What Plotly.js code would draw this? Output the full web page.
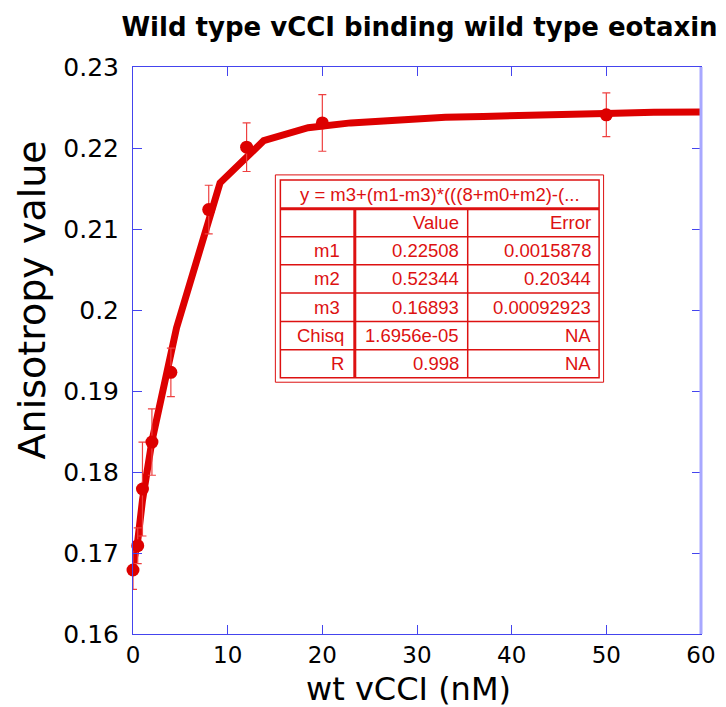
<!DOCTYPE html>
<html><head><meta charset="utf-8">
<script src="https://cdn.plot.ly/plotly-3.0.1.min.js"></script>
<style>html,body{margin:0;padding:0;background:#fff}</style>
</head><body>
<div id="chart" style="width:726px;height:707px"></div>
<script>
// Measured data points
const concNM = [0, 0.5, 1, 2, 4, 8, 12, 20, 50];
const anisotropy = [0.1679, 0.1709, 0.1779, 0.1837, 0.1923, 0.2124, 0.2201, 0.2231, 0.2241];
const anisotropyErr = [0.0024, 0.0022, 0.0058, 0.0041, 0.0030, 0.0030, 0.0030, 0.0035, 0.0027];
// Fitted curve as drawn
const fitX = [0, 0.5, 1, 2, 4.6, 9.2, 13.8, 18.5, 23, 28, 33, 37, 42, 46, 51, 55, 60];
const fitY = [0.1685, 0.1715, 0.1765, 0.1838, 0.1978, 0.2157, 0.2209, 0.2225, 0.2231, 0.2235, 0.2238, 0.2239, 0.2241, 0.2242, 0.2243, 0.2244, 0.22445];
// Fit results table
const tableHeader = "y = m3+(m1-m3)*(((8+m0+m2)-(...";
const colHeads = ["", "Value", "Error"];
const rowNames = ["m1", "m2", "m3", "Chisq", "R"];
const rowValues = ["0.22508", "0.52344", "0.16893", "1.6956e-05", "0.998"];
const rowErrors = ["0.0015878", "0.20344", "0.00092923", "NA", "NA"];
const xTicks = [0, 10, 20, 30, 40, 50, 60];
const yTicks = [0.16, 0.17, 0.18, 0.19, 0.2, 0.21, 0.22, 0.23];
const titleText = 'Wild type vCCI binding wild type eotaxin';
const xTitle = 'wt vCCI (nM)';
const yTitle = 'Anisotropy value';

const W = 726, H = 707;
const L = 132.5, R = 701, T = 67, B = 634.5;
const px = x => (x - L) / (R - L);
const py = y => (B - y) / (B - T);
const RED = '#dd0000';
const TRED = '#dd1111';
const FONT = 'Liberation Sans, Arial, sans-serif';
const WIDE = 'DejaVu Sans, sans-serif';

const shapes = [];
const ann = [];
function rect(x0, y0, x1, y1, w, fill) {
  shapes.push({type:'rect', xref:'paper', yref:'paper', x0:px(x0), x1:px(x1), y0:py(y1), y1:py(y0),
    line:{color:TRED, width:w}, fillcolor: fill || 'rgba(0,0,0,0)', layer:'above'});
}
function hline(x0, x1, y, w) {
  shapes.push({type:'line', xref:'paper', yref:'paper', x0:px(x0), x1:px(x1), y0:py(y), y1:py(y),
    line:{color:TRED, width:w}, layer:'above'});
}
function vline(x, y0, y1, w) {
  shapes.push({type:'line', xref:'paper', yref:'paper', x0:px(x), x1:px(x), y0:py(y0), y1:py(y1),
    line:{color:TRED, width:w}, layer:'above'});
}
function txt(s, x, y, anchor) {
  ann.push({text:s, xref:'paper', yref:'paper', x:px(x), y:py(y), xanchor:anchor, yanchor:'middle',
    showarrow:false, font:{family:FONT, size:18.5, color:TRED}});
}
// table geometry
rect(275, 175, 603.5, 382.5, 1, '#ffffff');
rect(280, 180, 599, 378, 1.5);
hline(280, 599, 209, 3);
const rowLines = [237, 265, 293.3, 321.7, 350];
rowLines.forEach(y => hline(280, 599, y, 1.5));
vline(354.5, 209, 378, 3);
vline(467.5, 209, 378, 1.5);
txt(tableHeader, 440, 194.5, 'center');
const rowCenters = [223, 251, 279, 307.5, 336, 364];
txt(colHeads[1], 461, rowCenters[0], 'right');
txt(colHeads[2], 593, rowCenters[0], 'right');
rowNames.forEach((n, i) => {
  const yc = rowCenters[i + 1];
  txt(n, i < 3 ? 342 : 346, yc, 'right');
  txt(rowValues[i], 461, yc, 'right');
  txt(rowErrors[i], 593, yc, 'right');
});
// pale right frame edge
shapes.push({type:'line', xref:'paper', yref:'paper', x0:1, x1:1, y0:0, y1:1, line:{color:'#a8a8ff', width:3}, layer:'above'});

// axis titles placed as annotations
ann.push({text: yTitle, xref:'paper', yref:'paper', x: px(31), y: py(300), xanchor:'center', yanchor:'middle',
  textangle:-90, showarrow:false, font:{family:WIDE, size:38, color:'#000'}});
ann.push({text: xTitle, xref:'paper', yref:'paper', x: px(408), y: py(710), xanchor:'center', yanchor:'bottom',
  borderpad:0, showarrow:false, font:{family:WIDE, size:32, color:'#000'}});

const traces = [
  {x: fitX, y: fitY, type:'scatter', mode:'lines', line:{color:RED, width:7}, hoverinfo:'skip', showlegend:false, cliponaxis:false},
  {x: concNM, y: anisotropy, type:'scatter', mode:'markers',
   marker:{color:RED, size:13, symbol:'circle'},
   error_y:{type:'data', array:anisotropyErr, visible:true, color:'#ee4040', thickness:1.2, width:4},
   showlegend:false, cliponaxis:false}
];

const layout = {
  width: W, height: H,
  margin: {l: L, r: W - R, t: T, b: H - B, pad: 0},
  paper_bgcolor:'#fff', plot_bgcolor:'#fff',
  showlegend:false,
  title: {text:'<b>' + titleText + '</b>', x: 419.5 / W, xanchor:'center', y: 1 - 27/H, yanchor:'middle',
    font:{family:WIDE, size:26, color:'#000'}},
  xaxis: {range:[0, 60], tickvals: xTicks, ticktext: xTicks.map(String), ticks:'inside', ticklen:9, tickwidth:1,
    tickcolor:'#4444ee', showline:true, linecolor:'#4444ee', linewidth:1, mirror:'ticks', showgrid:false, zeroline:false,
    tickfont:{family:WIDE, size:23, color:'#000'}, ticklabelstandoff:0},
  yaxis: {range:[0.16, 0.23], tickvals: yTicks, ticktext: yTicks.map(v => String(v)), ticks:'inside', ticklen:9, tickwidth:1,
    tickcolor:'#4444ee', showline:true, linecolor:'#4444ee', linewidth:1, mirror:'ticks', showgrid:false, zeroline:false,
    tickfont:{family:WIDE, size:25, color:'#000'}, ticklabelstandoff:8},
  shapes: shapes,
  annotations: ann
};
Plotly.newPlot('chart', traces, layout, {displayModeBar:false, staticPlot:true});
</script>
</body></html>
